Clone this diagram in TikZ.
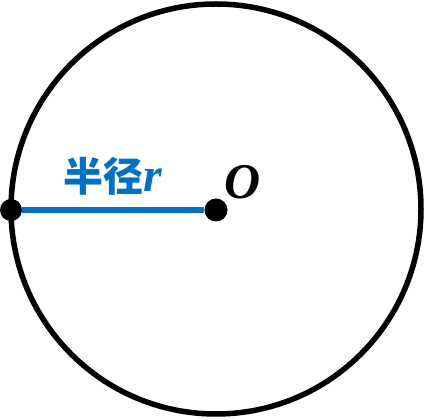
\documentclass[tikz,border=0pt]{standalone}
\usepackage{fontspec}
\setmainfont{Liberation Serif}
\newfontfamily\cjk{Noto Sans CJK SC}
\definecolor{radblue}{RGB}{0,112,192}
\begin{document}
\begin{tikzpicture}[x=1pt,y=1pt]
\useasboundingbox (0,0) rectangle (426,420);
\node[draw, circle, line width=5.5pt, minimum size=410pt, inner sep=0pt] (circ) at (216,211) {};
\node[fill, circle, minimum size=23pt, inner sep=0pt] (ctr) at (216,210) {};
\node[fill, circle, minimum size=22pt, inner sep=0pt] (edge) at (11,210) {};

\path[draw, radblue, line width=6pt] (edge) -- (ctr);

\node[anchor=base west, inner sep=0pt, text=radblue, font=\bfseries] (rlab) at (63,228) {{\fontsize{40}{40}\selectfont\cjk 半径}{\fontsize{48}{48}\selectfont\itshape r}};
\node[anchor=base west, inner sep=0pt, font=\fontsize{50}{50}\selectfont\bfseries\itshape] (olab) at (224,221) {O};
\end{tikzpicture}
\end{document}
